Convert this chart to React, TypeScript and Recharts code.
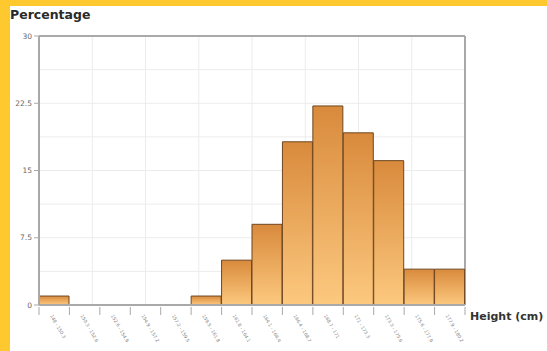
import { BarChart, Bar, XAxis, YAxis, CartesianGrid } from "recharts"

// Height bins (cm) and share of people in each bin (%)
const binLabels = [
  "148 - 150.3",
  "150.3 - 152.6",
  "152.6 - 154.9",
  "154.9 - 157.2",
  "157.2 - 159.5",
  "159.5 - 161.8",
  "161.8 - 164.1",
  "164.1 - 166.4",
  "166.4 - 168.7",
  "168.7 - 171",
  "171 - 173.3",
  "173.3 - 175.6",
  "175.6 - 177.9",
  "177.9 - 180.2"
]
const percentages = [1, 0, 0, 0, 0, 1, 5, 9, 18.2, 22.2, 19.2, 16.1, 4, 4]

const yTicks = [0, 7.5, 15, 22.5, 30]
const gridDivisions = 8

const data = binLabels.map((label, i) => ({ label, value: percentages[i] }))

const AXIS = "#a9a9a9"
const FONT = "'DejaVu Sans', Verdana, sans-serif"

const steps = (n: number) => Array.from({ length: n + 1 }, (_, i) => i / n)

// light grid: 8 columns, 8 rows across the plot
const gridX = ({ offset }: any) => steps(gridDivisions).map(f => offset.left + offset.width * f)
const gridY = ({ offset }: any) => steps(gridDivisions).map(f => offset.top + offset.height * f)
// frame: top and right edges of the plot
const frameX = ({ offset }: any) => [offset.left + offset.width]
const frameY = ({ offset }: any) => [offset.top]

function BinTick(props: any) {
  const { x, y, payload, index, width, visibleTicksCount } = props
  const bw = width / visibleTicksCount
  const axisY = y - 6
  const lx = x - 3
  const ly = y + 2
  return (
    <g>
      <line x1={x - bw / 2} y1={axisY} x2={x - bw / 2} y2={axisY + 8} stroke={AXIS} />
      {index === visibleTicksCount - 1 && (
        <line x1={x + bw / 2} y1={axisY} x2={x + bw / 2} y2={axisY + 8} stroke={AXIS} />
      )}
      <text
        x={lx}
        y={ly}
        transform={`rotate(60, ${lx}, ${ly})`}
        fontSize={4.6}
        fill="#808080"
        fontFamily={FONT}
        textAnchor="start"
        dominantBaseline="central"
      >
        {payload.value}
      </text>
    </g>
  )
}

export default function App() {
  return (
    <div
      style={{
        position: "absolute",
        left: 0,
        top: 0,
        width: 547,
        height: 351,
        background: "#fdc92f",
        overflow: "hidden",
        fontFamily: FONT
      }}
    >
      <div
        style={{
          position: "absolute",
          left: 10,
          top: 6,
          width: 537,
          height: 345,
          background: "#ffffff"
        }}
      >
        <div
          style={{
            position: "absolute",
            left: 0,
            top: 1,
            fontSize: 12.5,
            fontWeight: 700,
            color: "#2a2a2a"
          }}
        >
          Percentage
        </div>
        <div
          style={{
            position: "absolute",
            left: 460,
            top: 304,
            fontSize: 11,
            fontWeight: 700,
            color: "#333"
          }}
        >
          Height (cm)
        </div>
        <BarChart
          width={537}
          height={345}
          data={data}
          barCategoryGap={0}
          barGap={0}
          margin={{ top: 30, right: 82, left: 0, bottom: 0 }}
        >
          <defs>
            <linearGradient id="barFill" x1="0" y1="0" x2="0" y2="1">
              <stop offset="0%" stopColor="#d98a3c" />
              <stop offset="100%" stopColor="#fcc97f" />
            </linearGradient>
          </defs>

          <CartesianGrid
            stroke="#ececec"
            strokeWidth={1}
            verticalCoordinatesGenerator={gridX}
            horizontalCoordinatesGenerator={gridY}
          />
          <CartesianGrid
            stroke={AXIS}
            strokeWidth={2}
            verticalCoordinatesGenerator={frameX}
            horizontalCoordinatesGenerator={frameY}
          />

          <XAxis
            dataKey="label"
            height={46}
            interval={0}
            tick={<BinTick />}
            tickLine={false}
            tickSize={6}
            axisLine={{ stroke: AXIS, strokeWidth: 2 }}
          />
          <YAxis
            domain={[0, 30]}
            ticks={yTicks}
            width={29}
            tickSize={5}
            tick={{ fontSize: 7.5, fill: "#666", fontFamily: FONT }}
            axisLine={{ stroke: AXIS, strokeWidth: 2 }}
            tickLine={{ stroke: AXIS, strokeWidth: 1 }}
          />

          <Bar
            dataKey="value"
            fill="url(#barFill)"
            stroke="#6e4620"
            strokeWidth={1}
            isAnimationActive={false}
          />
        </BarChart>
      </div>
    </div>
  )
}
